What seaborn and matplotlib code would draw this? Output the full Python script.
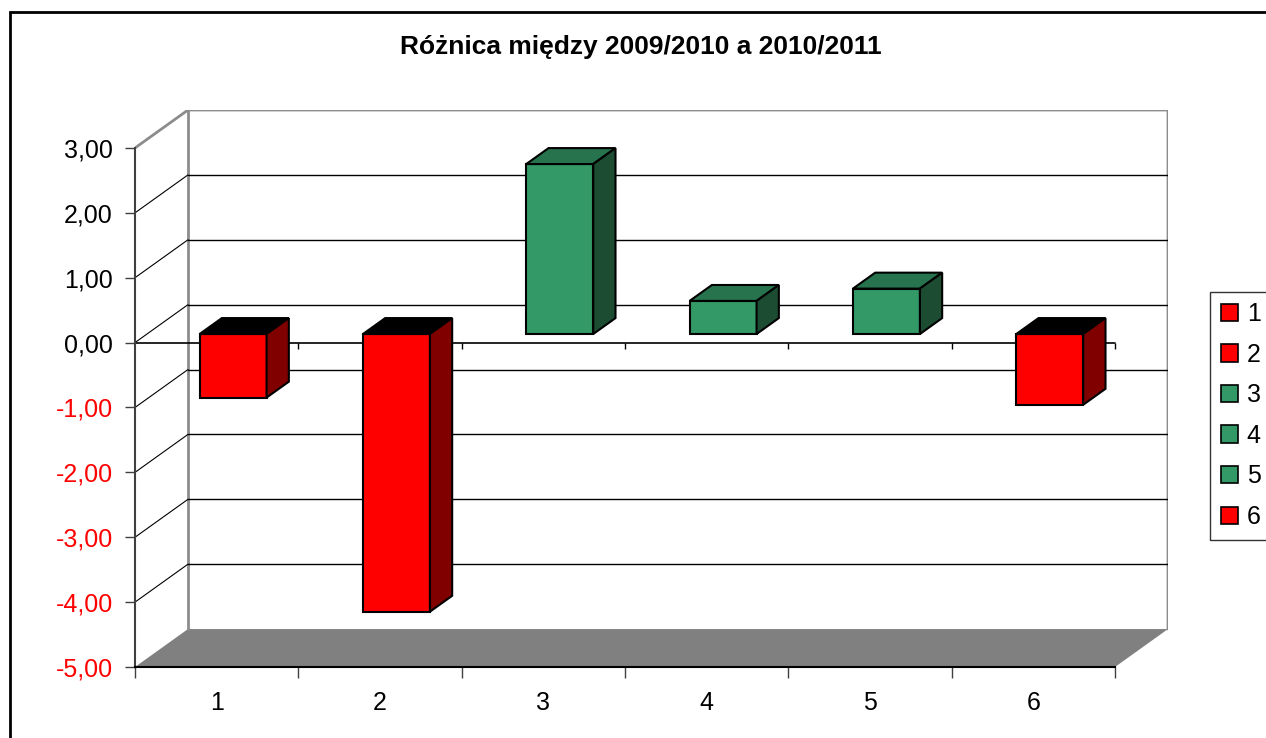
import pandas as pd
import seaborn as sns
import matplotlib.pyplot as plt
from matplotlib.patches import Polygon, Patch, Rectangle

# data
categories = ["1", "2", "3", "4", "5", "6"]
values = [-0.98, -4.28, 2.62, 0.51, 0.70, -1.09]
y_ticks = [-5, -4, -3, -2, -1, 0, 1, 2, 3]
title = "Różnica między 2009/2010 a 2010/2011"

red_front, red_side, red_top = "#FF0000", "#800000", "#000000"
green_front, green_side, green_top = "#339966", "#1C4D33", "#26734D"

# fake 3d: full depth of the plot box and the bars, in data units
DX, DY = 0.3245, 0.585
F0X, F0Y, FD = 0.31, 0.226, 0.42

sns.set_theme(style="white")
plt.rcParams["font.family"] = ["Liberation Sans", "DejaVu Sans"]
plt.rcParams["text.color"] = "black"
plt.rcParams["xtick.color"] = "black"
plt.rcParams["ytick.color"] = "black"

df = pd.DataFrame({"cat": categories, "val": values})
palette = {c: (red_front if v < 0 else green_front) for c, v in zip(categories, values)}

W, H = 1266, 738
fig = plt.figure(figsize=(W / 100, H / 100), dpi=100)
ax = fig.add_axes([135 / W, (H - 667) / H, (1168 - 135) / W, (667 - 110) / H])

sns.barplot(data=df, x="cat", y="val", hue="cat", palette=palette, width=0.41,
            edgecolor="black", linewidth=1.5, legend=False, saturation=1, ax=ax, zorder=5)

xmin, xmax = -0.5, len(categories) - 0.5
ymin, ymax = min(y_ticks), max(y_ticks)

# floor
ax.add_patch(Polygon([(xmin, ymin), (xmax, ymin), (xmax + DX, ymin + DY), (xmin + DX, ymin + DY)],
                     closed=True, facecolor="#808080", edgecolor="none", zorder=1))
# walls outline
wall = "#8c8c8c"
ax.plot([xmin, xmin + DX, xmax + DX, xmax + DX], [ymax, ymax + DY, ymax + DY, ymin + DY],
        color=wall, lw=2, zorder=1, solid_joinstyle="miter")
ax.plot([xmin + DX, xmin + DX], [ymin + DY, ymax + DY], color=wall, lw=2, zorder=1)
# gridlines on back and left walls
for v in y_ticks[1:-1]:
    ax.plot([xmin + DX, xmax + DX], [v + DY, v + DY], color="black", lw=1, zorder=1.5)
    ax.plot([xmin, xmin + DX], [v, v + DY], color="black", lw=0.8, zorder=1.5)
# zero line with its ticks
ax.plot([xmin, xmax], [0, 0], color="black", lw=1.2, zorder=2)
ax.vlines([i + 0.5 for i in range(len(categories))], -0.1, 0, color="black", lw=1, zorder=2)

# 3d faces on the bars
for p, v in zip(ax.patches, values):
    p.set_x(p.get_x() + F0X * DX)
    p.set_y(p.get_y() + F0Y * DY)
    x0, x1 = p.get_x(), p.get_x() + p.get_width()
    yb, yt = sorted([p.get_y(), p.get_y() + p.get_height()])
    side, top = (red_side, red_top) if v < 0 else (green_side, green_top)
    ax.add_patch(Polygon([(x0, yt), (x1, yt), (x1 + FD * DX, yt + FD * DY), (x0 + FD * DX, yt + FD * DY)],
                         closed=True, facecolor=top, edgecolor="black", lw=1.5, zorder=5))
    ax.add_patch(Polygon([(x1, yb), (x1, yt), (x1 + FD * DX, yt + FD * DY), (x1 + FD * DX, yb + FD * DY)],
                         closed=True, facecolor=side, edgecolor="black", lw=1.5, zorder=5))

ax.set_xlim(xmin, xmax + DX)
ax.set_ylim(ymin, ymax + DY)
ax.set_xlabel("")
ax.set_ylabel("")
for s in ["top", "right"]:
    ax.spines[s].set_visible(False)
ax.spines["left"].set_bounds(ymin, ymax)
ax.spines["left"].set_color("#404040")
ax.spines["left"].set_linewidth(1.5)
ax.spines["bottom"].set_bounds(xmin, xmax)
ax.spines["bottom"].set_color("black")
ax.spines["bottom"].set_linewidth(1.5)

ax.set_yticks(y_ticks)
ax.set_yticklabels([f"{v:.2f}".replace(".", ",") for v in y_ticks])
for lab, v in zip(ax.get_yticklabels(), y_ticks):
    lab.set_color("red" if v < 0 else "black")
ax.tick_params(axis="y", left=True, length=7, width=1, color="#404040", labelsize=18, pad=9)
ax.set_xticks(range(len(categories)))
ax.set_xticklabels(categories)
ax.set_xticks([i - 0.5 for i in range(len(categories) + 1)], minor=True)
ax.tick_params(axis="x", which="major", length=0, labelsize=18, pad=17)
ax.tick_params(axis="x", which="minor", bottom=True, length=8, width=1, color="#404040")

fig.text(641 / W, 1 - 47 / H, title, ha="center", va="center", fontsize=19, fontweight="bold")

handles = [Patch(facecolor=palette[c], edgecolor="black", lw=1.2) for c in categories]
leg = fig.legend(handles, categories, loc="upper left", bbox_to_anchor=(1210 / W, 1 - 292 / H),
                 frameon=True, fancybox=False, fontsize=18, handlelength=0.7, handleheight=0.7,
                 labelspacing=0.66, handletextpad=0.35, borderpad=0.42, borderaxespad=0)
leg.get_frame().set_edgecolor("black")
leg.get_frame().set_linewidth(1)

# chart area border
fig.add_artist(Rectangle((10 / W, -0.05), 1.1, (H - 12) / H + 0.05, transform=fig.transFigure,
                         fill=False, lw=2, edgecolor="black"))

fig.savefig("out.png", dpi=100)
